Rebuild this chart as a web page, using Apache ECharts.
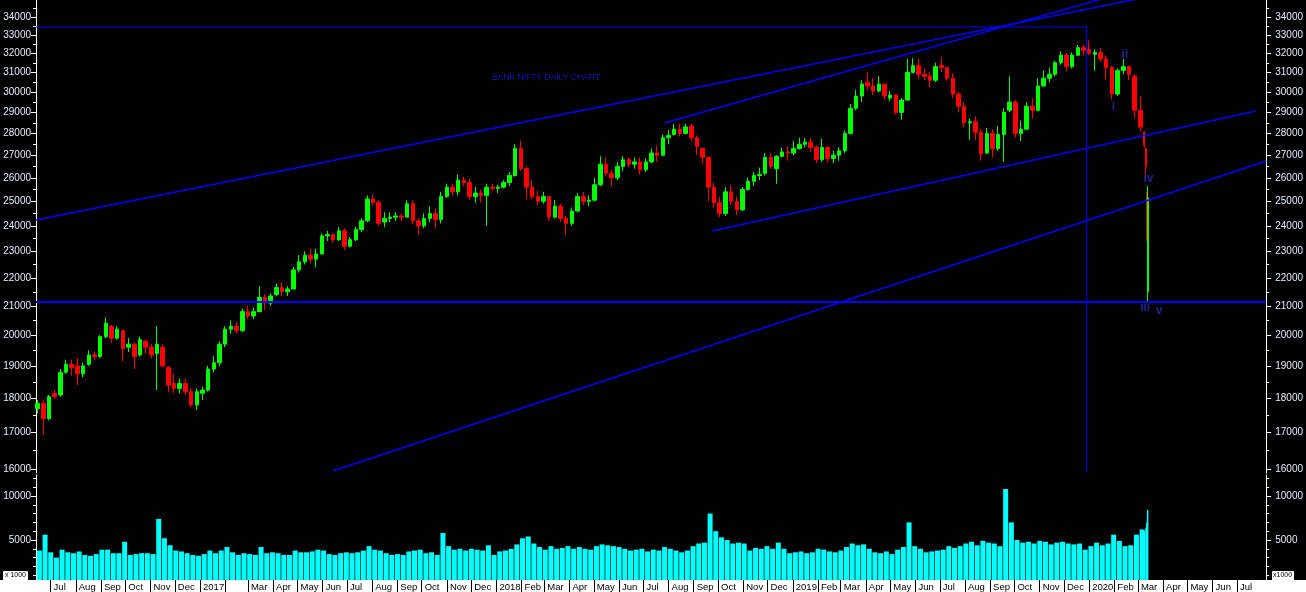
<!DOCTYPE html>
<html><head><meta charset="utf-8">
<script src="https://cdn.jsdelivr.net/npm/echarts@6/dist/echarts.min.js"></script>
<style>html,body{margin:0;padding:0;background:#000;}#c{width:1306px;height:592px;}</style>
</head><body><div id="c"></div>
<script>
// ---- weekly bars: [week monday, open, close, low, high, volume(x1000)] ----
const ohlc2016 = [
['2016-06-13',17700,17850,17550,17950,3800],['2016-06-20',17850,17400,16950,17950,5600],['2016-06-27',17400,18050,17350,18100,3600],
['2016-07-04',18150,18050,17980,18250,3000],['2016-07-11',18100,18800,18050,18900,3900],['2016-07-18',18800,19050,18750,19200,3600],
['2016-07-25',19050,18950,18700,19200,3500],['2016-08-01',19000,18750,18400,19250,3700],['2016-08-08',18750,19000,18650,19100,3300],
['2016-08-15',19050,19350,19000,19500,3200],['2016-08-22',19350,19300,19200,19450,3400],['2016-08-29',19300,19950,19250,20000,3900],
['2016-09-05',19950,20400,19900,20600,3900],['2016-09-12',20300,19900,19750,20350,3500],['2016-09-19',19900,20200,19850,20300,3500],
['2016-09-26',20150,19550,19150,20200,4800],['2016-10-03',19600,19700,19450,19900,3300],['2016-10-10',19700,19300,18900,19750,3400],
['2016-10-17',19350,19850,19300,19950,3500],['2016-10-24',19800,19600,19400,19850,3500],['2016-10-31',19600,19350,19250,19700,3400],
['2016-11-07',19400,19700,18250,20300,7400],['2016-11-14',19600,19000,18950,19700,5200],['2016-11-21',18950,18400,18200,19000,4400],
['2016-11-28',18450,18300,18150,18750,3800],['2016-12-05',18300,18450,18150,18600,3700],['2016-12-12',18450,18200,18100,18600,3500],
['2016-12-19',18200,17800,17750,18300,3300],['2016-12-26',17800,18200,17650,18300,3200]
];
const ohlc2017 = [
['2017-01-02',18150,18250,17950,18350,3400],['2017-01-09',18250,18900,18200,19000,3800],['2017-01-16',18900,19100,18800,19300,3500],
['2017-01-23',19100,19700,19000,19800,3800],['2017-01-30',19700,20200,19600,20300,4200],['2017-02-06',20200,20300,20050,20500,3600],
['2017-02-13',20300,20150,20050,20450,3300],['2017-02-20',20150,20800,20100,20900,3500],['2017-02-27',20800,20650,20550,21000,3400],
['2017-03-06',20650,20800,20550,20950,3300],['2017-03-13',20800,21300,20800,21700,4200],['2017-03-20',21300,21100,20850,21400,3500],
['2017-03-27',21100,21350,21000,21450,3600],['2017-04-03',21400,21650,21350,21800,3500],['2017-04-10',21650,21500,21350,21850,3300],
['2017-04-17',21500,21600,21350,21700,3300],['2017-04-24',21600,22300,21600,22400,3800],['2017-05-01',22300,22600,22200,22850,3600],
['2017-05-08',22600,22850,22500,23000,3600],['2017-05-15',22850,22700,22550,23100,3700],['2017-05-22',22700,22900,22400,23100,3900],
['2017-05-29',22900,23600,22900,23700,3800],['2017-06-05',23600,23650,23400,23800,3400],['2017-06-12',23650,23450,23350,23700,3300],
['2017-06-19',23450,23800,23400,23950,3500],['2017-06-26',23800,23200,23050,23900,3600],['2017-07-03',23200,23450,23150,23550,3500],
['2017-07-10',23450,23850,23400,23950,3600],['2017-07-17',23850,24200,23750,24300,3800],['2017-07-24',24200,25100,24150,25250,4300],
['2017-07-31',25100,24950,24800,25300,3900],['2017-08-07',24950,24100,24000,25050,3800],['2017-08-14',24150,24300,23950,24550,3500],
['2017-08-21',24300,24350,24150,24550,3300],['2017-08-28',24350,24400,24200,24550,3400],['2017-09-04',24400,24350,24200,24500,3300],
['2017-09-11',24350,24900,24350,25050,3700],['2017-09-18',24900,24200,24050,25050,3800],['2017-09-25',24200,24000,23650,24300,3900],
['2017-10-02',24000,24300,23900,24500,3500],['2017-10-09',24300,24500,24150,24800,3600],['2017-10-16',24500,24250,23900,24700,3300],
['2017-10-23',24250,25200,24100,25400,5800],['2017-10-30',25200,25600,25150,25750,4300],['2017-11-06',25600,25400,25250,25750,3900],
['2017-11-13',25400,25900,25250,26150,4000],['2017-11-20',25900,25800,25650,26050,3800],['2017-11-27',25800,25200,25050,25950,4000],
['2017-12-04',25200,25350,24950,25600,3900],['2017-12-11',25350,25250,24950,25500,3800],['2017-12-18',25250,25600,24000,25750,4400],
['2017-12-25',25600,25550,25450,25750,3300]
];
const ohlc2018 = [
['2018-01-01',25550,25600,25350,25700,3700],['2018-01-08',25600,25800,25550,25900,3800],['2018-01-15',25800,26100,25650,26250,4000],
['2018-01-22',26100,27300,26050,27500,4500],['2018-01-29',27300,26400,26300,27650,5200],['2018-02-05',26400,25600,25100,26500,5400],
['2018-02-12',25600,25200,25100,25900,4600],['2018-02-19',25200,25000,24850,25450,4200],['2018-02-26',25000,25200,24900,25400,3900],
['2018-03-05',25200,24350,24200,25200,4300],['2018-03-12',24350,24800,24300,25050,4000],['2018-03-19',24800,24300,24150,24900,4100],
['2018-03-26',24300,24100,23650,24400,4300],['2018-04-02',24100,24600,24000,24750,4000],['2018-04-09',24600,25200,24550,25350,4200],
['2018-04-16',25200,25000,24850,25400,4000],['2018-04-23',25000,25050,24800,25250,3900],['2018-04-30',25050,25700,25000,26000,4300],
['2018-05-07',25700,26600,25650,26950,4500],['2018-05-14',26600,26200,26050,26900,4400],['2018-05-21',26200,26000,25650,26350,4300],
['2018-05-28',26000,26500,25900,26700,4200],['2018-06-04',26500,26800,26300,26950,4000],['2018-06-11',26800,26600,26450,26900,3800],
['2018-06-18',26600,26700,26400,26900,3900],['2018-06-25',26700,26350,26150,26900,4000],['2018-07-02',26350,26700,26250,26850,3700],
['2018-07-09',26700,27100,26650,27300,3900],['2018-07-16',27100,27000,26700,27450,3800],['2018-07-23',27000,27800,26950,27950,4200],
['2018-07-30',27800,27900,27500,28150,4000],['2018-08-06',27950,28200,27900,28450,3800],['2018-08-13',28200,28000,27850,28450,3600],
['2018-08-20',28000,28300,27950,28450,3800],['2018-08-27',28350,27800,27650,28450,4300],['2018-09-03',27800,27400,27000,27900,4600],
['2018-09-10',27300,26900,26600,27350,4700],['2018-09-17',26900,25600,25000,26950,8000],['2018-09-24',25600,24950,24750,25800,6000],
['2018-10-01',24950,24500,24350,25200,5300],['2018-10-08',24500,25400,24400,25600,5000],['2018-10-15',25400,25000,24850,25700,4600],
['2018-10-22',25000,24650,24450,25200,4700],['2018-10-29',24650,25500,24600,25600,4600],['2018-11-05',25500,25850,25450,26000,3800],
['2018-11-12',25850,26100,25650,26250,4100],['2018-11-19',26100,26150,25900,26450,4000],['2018-11-26',26200,26900,26100,27100,4300],
['2018-12-03',26900,26500,26400,27100,4000],['2018-12-10',26400,26950,25750,27000,4700],['2018-12-17',26950,27150,26900,27350,4000],
['2018-12-24',27150,27100,26750,27400,3500],['2018-12-31',27100,27300,27000,27650,3600]
];
const ohlc2019 = [
['2019-01-07',27300,27500,27250,27800,3700],['2019-01-14',27500,27600,27350,27800,3500],['2019-01-21',27600,27350,27150,27800,3600],
['2019-01-28',27350,26800,26650,27450,4000],['2019-02-04',26800,27350,26700,27750,3900],['2019-02-11',27350,26850,26700,27400,3700],
['2019-02-18',26850,27000,26650,27200,3600],['2019-02-25',27000,27200,26750,27350,3800],['2019-03-04',27200,28000,27100,28150,4200],
['2019-03-11',28000,29200,27950,29400,4600],['2019-03-18',29200,29800,29100,30100,4400],['2019-03-25',29800,30400,29500,30600,4500],
['2019-04-01',30500,30300,30100,31000,4000],['2019-04-08',30300,30050,29850,30700,3600],['2019-04-15',30050,30400,30000,30800,3500],
['2019-04-22',30400,29800,29600,30400,3700],['2019-04-29',29700,29850,29550,30050,3400],['2019-05-06',29850,29000,28900,29900,3900],
['2019-05-13',29000,29600,28650,29700,4200],['2019-05-20',29600,31000,29600,31700,7000],['2019-05-27',31000,31350,30950,31750,4300],
['2019-06-03',31350,30900,30650,31700,4000],['2019-06-10',30900,30800,30600,31200,3600],['2019-06-17',30800,30600,30250,31000,3700],
['2019-06-24',30600,31300,30500,31500,3800],['2019-07-01',31350,31250,31000,31800,3900],['2019-07-08',31250,30700,30550,31100,4300],
['2019-07-15',30700,29900,29700,30950,4100],['2019-07-22',29900,29300,29000,30000,4300],['2019-07-29',29300,28500,28300,29500,4600],
['2019-08-05',28500,28550,27700,28700,4800],['2019-08-12',28550,28050,27700,28800,4400],['2019-08-19',28050,27050,26750,28200,4900],
['2019-08-26',27100,28000,27050,28250,4700],['2019-09-02',28000,27300,26900,28200,4600],['2019-09-09',27300,27950,27200,28350,4300],
['2019-09-16',27950,29000,26700,29200,10800],['2019-09-23',29100,29500,29000,30800,7000],['2019-09-30',29500,28000,27800,29600,5000],
['2019-10-07',28000,28200,27650,28600,4700],['2019-10-14',28200,29300,28150,29500,4800],['2019-10-21',29300,29100,28700,29700,4600],
['2019-10-28',29100,30300,29050,30700,4900],['2019-11-04',30300,30700,30300,31100,4800],['2019-11-11',30700,30900,30500,31250,4500],
['2019-11-18',30900,31500,30800,31600,4700],['2019-11-25',31500,31900,31400,32100,4800],['2019-12-02',31900,31300,31050,32000,4600],
['2019-12-09',31300,31900,31200,32050,4500],['2019-12-16',31900,32300,31850,32450,4600],['2019-12-23',32300,32150,31900,32450,3900],
['2019-12-30',32200,32000,31900,32700,4300]
];
const ohlc2020 = [
['2020-01-06',31950,32050,31100,32200,4700],['2020-01-13',32050,31700,31550,32300,4400],['2020-01-20',31700,31250,30650,31900,4600],
['2020-01-27',31250,29900,29650,31350,5600],['2020-02-03',29900,31100,29800,31200,4900],['2020-02-10',31100,31300,30900,31700,4300],
['2020-02-17',31300,30900,30600,31350,4400],['2020-02-24',30800,29100,28700,30900,5600],['2020-03-02',29100,28300,28100,29800,6200]
];
// ---- last days shown one bar per session: [date, open, close, low, high, volume] ----
const dailyMar2020 = [
['2020-03-09',28050,27450,27350,28100,6000],['2020-03-11',27300,26500,25950,27350,6400],
['2020-03-12',25300,23650,23400,25400,7000],['2020-03-13',21500,25150,21140,25650,8400]
];
// ---- drawn lines: [date, price] ----
const trendA = [['2016-06-13',24235],['2020-08-06',36577]];
const trendB = [['2018-07-27',28490],['2020-03-13',35810]];
const trendC = [['2018-09-24',23790],['2020-07-24',29070]];
const trendD = [['2017-06-14',15950],['2020-08-06',26740]];
const support = [['2016-06-13',21140],['2020-08-06',21140]];
const peakMarker = [['2016-06-13',33440],['2019-12-29',33440],['2019-12-29',15900]];
// ---- texts on chart: [date, price, text] ----
const waveLabels = [['2020-01-31',29300,'i'],['2020-02-14',31910,'ii'],['2020-03-10',20930,'iii'],['2020-03-14',25950,'iv'],['2020-03-27',20830,'v']];
const titleLabel = [['2018-03-03',30710,'BANK NIFTY DAILY CHART']];
// ---- axes ----
const priceRange = [15892, 34978];
const volRange = [455, 12387];
const priceTicks = [16000,17000,18000,19000,20000,21000,22000,23000,24000,25000,26000,27000,28000,29000,30000,31000,32000,33000,34000];
const priceMinorTicks = [16500,17500,18500,19500,20500,21500,22500,23500,24500,25500,26500,27500,28500,29500,30500,31500,32500,33500,34500];
const volTicks = [5000,10000];
const volMinorTicks = [1000,2000,3000,4000,6000,7000,8000,9000,11000,12000];
const monthStarts = ['2016-07-01','2016-08-01','2016-09-01','2016-10-01','2016-11-01','2016-12-01','2017-01-01','2017-02-01','2017-03-01','2017-04-01','2017-05-01','2017-06-01','2017-07-01','2017-08-01','2017-09-01','2017-10-01','2017-11-01','2017-12-01','2018-01-01','2018-02-01','2018-03-01','2018-04-01','2018-05-01','2018-06-01','2018-07-01','2018-08-01','2018-09-01','2018-10-01','2018-11-01','2018-12-01','2019-01-01','2019-02-01','2019-03-01','2019-04-01','2019-05-01','2019-06-01','2019-07-01','2019-08-01','2019-09-01','2019-10-01','2019-11-01','2019-12-01','2020-01-01','2020-02-01','2020-03-01','2020-04-01','2020-05-01','2020-06-01','2020-07-01'];
const monthLabels = ['Jul','Aug','Sep','Oct','Nov','Dec','2017','','Mar','Apr','May','Jun','Jul','Aug','Sep','Oct','Nov','Dec','2018','Feb','Mar','Apr','May','Jun','Jul','Aug','Sep','Oct','Nov','Dec','2019','Feb','Mar','Apr','May','Jun','Jul','Aug','Sep','Oct','Nov','Dec','2020','Feb','Mar','Apr','May','Jun','Jul'];
const axisStart = '2016-06-13', axisEnd = '2020-08-06';

// ---- build ----
const DAY = 86400000;
const ts = s => { const p = s.split('-').map(Number); return Date.UTC(p[0], p[1]-1, p[2]); };
const lg = Math.log;
const weekly = [].concat(ohlc2016, ohlc2017, ohlc2018, ohlc2019, ohlc2020);
const candleW = weekly.map(r => [ts(r[0]) + 2*DAY, lg(r[1]), lg(r[2]), lg(r[3]), lg(r[4])]);
const candleD = dailyMar2020.map(r => [ts(r[0]), lg(r[1]), lg(r[2]), lg(r[3]), lg(r[4])]);
const volW = weekly.map(r => [ts(r[0]) + 2*DAY, r[5]]);
const volD = dailyMar2020.map(r => [ts(r[0]), r[5]]);
const toLine = arr => arr.map(p => [ts(p[0]), lg(p[1])]);
const monthTs = monthStarts.map(ts);
const labelMap = {}; monthTs.forEach((t,i) => labelMap[t] = monthLabels[i]);
const FONT = 'Liberation Sans, Arial, sans-serif';
const LBL = '#e4ecff';
const xMin = ts(axisStart), xMax = ts(axisEnd);

function yAx(grid, pos, range, tickVals, labelVals, tickLen, showLine, fmt, isLog) {
  return {
    type: 'value', gridIndex: grid, position: pos,
    min: isLog ? lg(range[0]) : range[0], max: isLog ? lg(range[1]) : range[1],
    splitLine: {show: false},
    axisLine: {show: showLine, lineStyle: {color: '#ffffff', width: 1}},
    axisTick: {show: true, length: tickLen, lineStyle: {color: '#ffffff'}, customValues: tickVals},
    axisLabel: labelVals ? {show: true, customValues: labelVals, color: LBL, fontSize: 10, fontFamily: FONT,
      margin: pos === 'left' ? 5 : 9, formatter: fmt} : {show: false}
  };
}
const pFmt = v => String(Math.round(Math.exp(v) / 100) * 100);
const vFmt = v => String(Math.round(v));
const pMaj = priceTicks.map(lg), pMin = priceMinorTicks.map(lg);

const labelSeries = (data, size, color, weight) => ({
  type: 'scatter', xAxisIndex: 0, yAxisIndex: 0, symbolSize: 0.1, silent: true,
  itemStyle: {color: 'rgba(0,0,0,0)'},
  data: data.map(d => ({value: [ts(d[0]), lg(d[1])], name: d[2]})),
  label: {show: true, position: 'inside', formatter: p => p.name, color: color, fontSize: size, fontWeight: weight, fontFamily: FONT}
});
const lineSeries = (arr, width) => ({
  type: 'line', xAxisIndex: 0, yAxisIndex: 0, data: toLine(arr), showSymbol: false, symbol: 'none',
  lineStyle: {color: '#0000ff', width: width}, silent: true, clip: true
});

const chart = echarts.init(document.getElementById('c'), null, {renderer: 'canvas'});
chart.setOption({
  backgroundColor: '#000000',
  animation: false,
  grid: [
    {left: 36, right: 36, top: 0, height: 473},
    {left: 36, right: 36, top: 475, height: 105}
  ],
  xAxis: [
    {type: 'value', gridIndex: 0, min: xMin, max: xMax, show: false, splitLine: {show: false}},
    {type: 'value', gridIndex: 1, min: xMin, max: xMax,
     axisLine: {show: false}, splitLine: {show: false},
     axisTick: {show: true, customValues: monthTs, length: 12, lineStyle: {color: '#000000', width: 1}},
     axisLabel: {show: true, customValues: monthTs, formatter: v => labelMap[v] || '', color: '#000000',
       fontSize: 9.5, fontFamily: FONT, align: 'left', margin: 2, padding: [0, 0, 0, 3]}}
  ],
  yAxis: [
    yAx(0, 'left', priceRange, pMaj, pMaj, 5, true, pFmt, true),
    yAx(0, 'left', priceRange, pMin, null, 3, false, null, true),
    yAx(0, 'right', priceRange, pMaj, pMaj, 5, true, pFmt, true),
    yAx(0, 'right', priceRange, pMin, null, 3, false, null, true),
    yAx(1, 'left', volRange, volTicks, volTicks, 5, true, vFmt, false),
    yAx(1, 'left', volRange, volMinorTicks, null, 3, false, null, false),
    yAx(1, 'right', volRange, volTicks, volTicks, 5, true, vFmt, false),
    yAx(1, 'right', volRange, volMinorTicks, null, 3, false, null, false)
  ],
  graphic: {elements: [
    {type: 'rect', left: 0, top: 580, shape: {width: 1306, height: 12}, style: {fill: '#ffffff'}, z: -10},
    {type: 'rect', left: 3, top: 571, shape: {width: 24, height: 9}, style: {fill: '#ffffff', stroke: '#ffffff'}, z: 100},
    {type: 'text', left: 5, top: 572, style: {text: 'x 1000', fill: '#000', font: '7px ' + FONT}, z: 101},
    {type: 'rect', left: 1272, top: 571, shape: {width: 21, height: 9}, style: {fill: '#ffffff', stroke: '#ffffff'}, z: 100},
    {type: 'text', left: 1273, top: 572, style: {text: 'x1000', fill: '#000', font: '7px ' + FONT}, z: 101}
  ]},
  series: [
    {type: 'candlestick', name: 'weekly', xAxisIndex: 0, yAxisIndex: 0, data: candleW, encode: {x: 0, y: [1, 2, 3, 4]},
     barWidth: 4, itemStyle: {color: '#00ff00', color0: '#ff0000', borderColor: '#00ff00', borderColor0: '#ff0000', borderWidth: 1}},
    {type: 'candlestick', name: 'daily', xAxisIndex: 0, yAxisIndex: 0, data: candleD, encode: {x: 0, y: [1, 2, 3, 4]},
     barWidth: 1.5, itemStyle: {color: '#00ff00', color0: '#ff0000', borderColor: '#00ff00', borderColor0: '#ff0000', borderWidth: 1}},
    lineSeries(trendA, 1.5), lineSeries(trendB, 1.5), lineSeries(trendC, 1.5), lineSeries(trendD, 1.5),
    lineSeries(support, 2), lineSeries(peakMarker, 1),
    labelSeries(waveLabels, 12, '#2a2ab8', 'bold'),
    labelSeries(titleLabel, 8.5, '#1a1ae0', 'normal'),
    {type: 'bar', name: 'volW', xAxisIndex: 1, yAxisIndex: 4, data: volW, barWidth: 5, barGap: '-100%', itemStyle: {color: '#00ffff'}},
    {type: 'bar', name: 'volD', xAxisIndex: 1, yAxisIndex: 4, data: volD, barWidth: 1.5, barGap: '-100%', itemStyle: {color: '#00ffff'}}
  ]
});
</script></body></html>
